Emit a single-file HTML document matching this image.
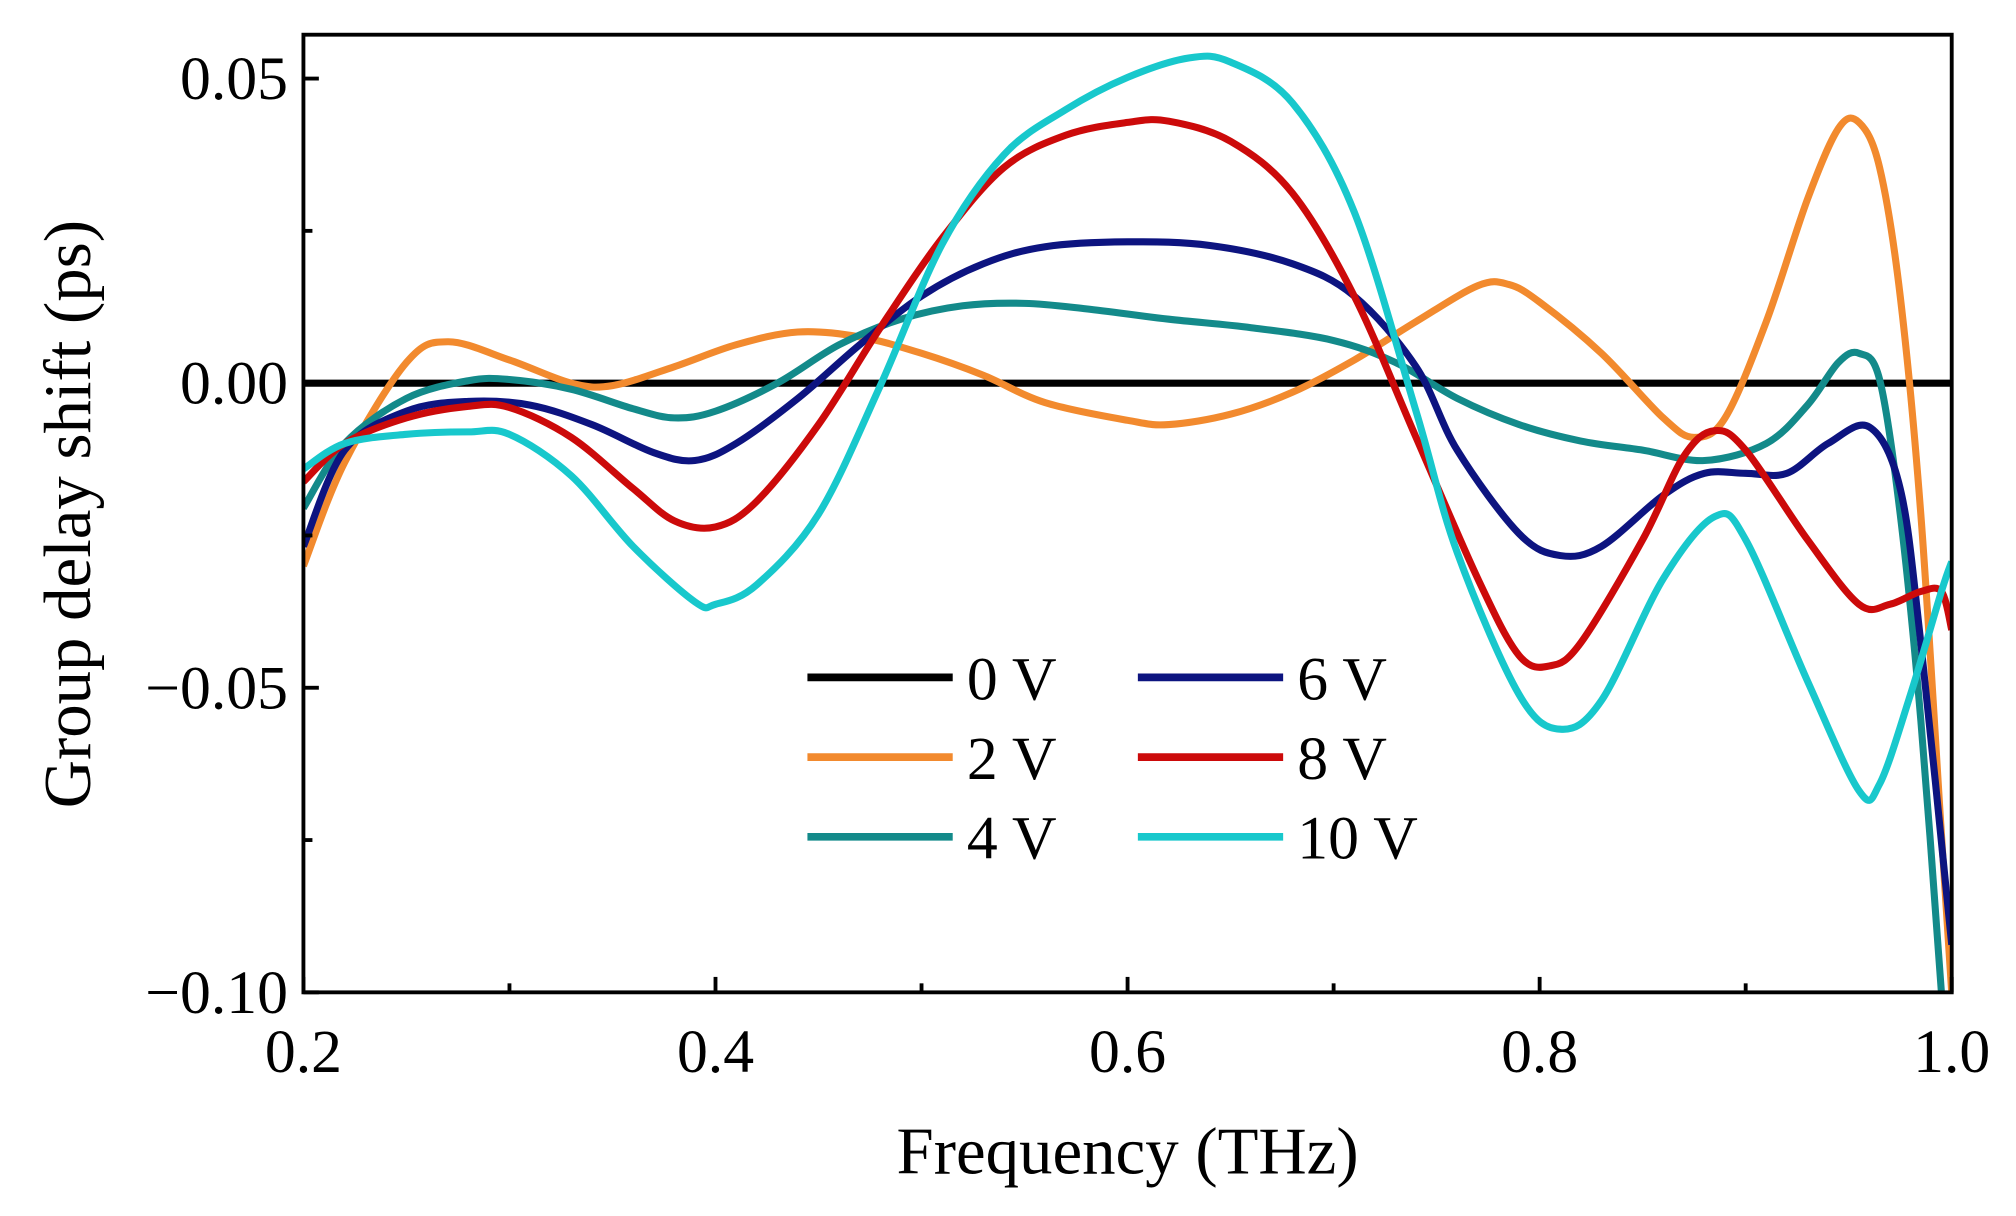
<!DOCTYPE html>
<html><head><meta charset="utf-8"><style>
html,body{margin:0;padding:0;background:#fff}
svg{display:block}
text{font-family:"Liberation Serif",serif;fill:#000}
</style></head><body>
<svg id="chart" width="2016" height="1216" viewBox="0 0 1568 946" preserveAspectRatio="none" xmlns="http://www.w3.org/2000/svg">
<g id="plot"></g>
</svg>
<script>
const xTicks=[0.2,0.4,0.6,0.8,1.0];
const xTickLabels=["0.2","0.4","0.6","0.8","1.0"];
const yTicks=[0.05,0,-0.05,-0.1];
const yTickLabels=["0.05","0.00","\u22120.05","\u22120.10"];
const seriesNames=["0 V","2 V","4 V","6 V","8 V","10 V"];
const seriesColors=["#000000","#f28a2e","#138a8a","#0d1480","#cc0a0a","#18c8cc"];
const f0=[0.2,1.0];
const v0=[0,0];
const f2=[0.2,0.22,0.25,0.27,0.3,0.33,0.35,0.38,0.41,0.44,0.47,0.5,0.53,0.56,0.6,0.62,0.65,0.68,0.71,0.74,0.77,0.785,0.8,0.83,0.86,0.875,0.89,0.91,0.93,0.945,0.955,0.965,0.975,0.985,0.995,1.0];
const v2=[-0.03,-0.013,0.0034,0.0068,0.0038,0,-0.0004,0.0027,0.0063,0.0084,0.0076,0.0049,0.0013,-0.0032,-0.0061,-0.0068,-0.0051,-0.0015,0.0038,0.0101,0.016,0.0162,0.0133,0.0049,-0.0057,-0.0089,-0.0057,0.0101,0.0302,0.0418,0.0428,0.0354,0.0143,-0.0215,-0.074,-0.1];
const f4=[0.2,0.22,0.25,0.28,0.3,0.33,0.36,0.38,0.4,0.43,0.46,0.49,0.52,0.55,0.58,0.62,0.66,0.7,0.73,0.76,0.79,0.82,0.85,0.88,0.91,0.93,0.945,0.955,0.965,0.975,0.985,0.995];
const v4=[-0.0205,-0.0099,-0.0025,0.0004,0.0006,-0.001,-0.0042,-0.0057,-0.0046,0,0.0063,0.0105,0.0127,0.0131,0.0122,0.0105,0.0091,0.007,0.0034,-0.0025,-0.0068,-0.0095,-0.011,-0.0127,-0.0099,-0.0036,0.0034,0.0049,0.0006,-0.0215,-0.0553,-0.1];
const f6=[0.2,0.22,0.25,0.28,0.31,0.34,0.37,0.39,0.41,0.44,0.47,0.5,0.53,0.56,0.6,0.64,0.68,0.71,0.74,0.76,0.79,0.81,0.83,0.86,0.88,0.9,0.92,0.94,0.96,0.975,0.985,1.0];
const v6=[-0.0268,-0.011,-0.0046,-0.003,-0.0036,-0.0068,-0.0114,-0.0127,-0.0099,-0.0025,0.0063,0.0143,0.0196,0.0224,0.0232,0.0226,0.0196,0.0143,0.0027,-0.011,-0.0247,-0.0283,-0.0268,-0.0184,-0.0148,-0.0148,-0.0148,-0.0099,-0.0072,-0.0173,-0.0426,-0.0922];
const f8=[0.2,0.22,0.25,0.28,0.3,0.33,0.36,0.38,0.4,0.42,0.45,0.48,0.51,0.54,0.57,0.6,0.62,0.65,0.68,0.71,0.74,0.77,0.79,0.805,0.82,0.85,0.87,0.885,0.9,0.93,0.955,0.97,0.985,0.995,1.0];
const v8=[-0.0162,-0.0099,-0.0057,-0.0038,-0.004,-0.0089,-0.0173,-0.0226,-0.0236,-0.0194,-0.0068,0.0091,0.0238,0.0354,0.0407,0.0428,0.043,0.0397,0.0312,0.0143,-0.0089,-0.0321,-0.0447,-0.0464,-0.0426,-0.0257,-0.012,-0.0078,-0.011,-0.0257,-0.0363,-0.0363,-0.0342,-0.0342,-0.0405];
const f10=[0.2,0.22,0.25,0.28,0.3,0.33,0.36,0.39,0.4,0.42,0.45,0.48,0.51,0.54,0.57,0.6,0.63,0.65,0.68,0.71,0.74,0.76,0.79,0.81,0.83,0.86,0.885,0.9,0.93,0.955,0.965,0.98,0.995,1.0];
const v10=[-0.0141,-0.0099,-0.0084,-0.008,-0.0084,-0.0152,-0.0268,-0.0359,-0.0363,-0.0331,-0.0215,-0.0004,0.0228,0.0375,0.0449,0.0502,0.0534,0.0527,0.046,0.0281,-0.0046,-0.0278,-0.0511,-0.0568,-0.0521,-0.0321,-0.0219,-0.0257,-0.0489,-0.0669,-0.0658,-0.0511,-0.0342,-0.0293];
const allF=[f0,f2,f4,f6,f8,f10];
const allV=[v0,v2,v4,v6,v8,v10];

const L=236,R=1518,T=27,B=772,xMin=0.2,xMax=1.0,yMin=-0.1,yMax=0.0572;
const X=f=>L+(f-xMin)/(xMax-xMin)*(R-L);
const Y=v=>B-(v-yMin)/(yMax-yMin)*(B-T);
const NS="http://www.w3.org/2000/svg";
const g=document.getElementById('plot');
function mk(tag,attrs,parent){const e=document.createElementNS(NS,tag);for(const k in attrs)e.setAttribute(k,attrs[k]);(parent||g).appendChild(e);return e;}

const clip=mk('clipPath',{id:'c'});mk('rect',{x:L,y:T,width:R-L,height:B-T},clip);

function smooth(pts){let d=`M${pts[0][0]},${pts[0][1]}`;for(let i=0;i<pts.length-1;i++){const p0=pts[i-1]||pts[i],p1=pts[i],p2=pts[i+1],p3=pts[i+2]||p2;const c1=[p1[0]+(p2[0]-p0[0])/6,p1[1]+(p2[1]-p0[1])/6],c2=[p2[0]-(p3[0]-p1[0])/6,p2[1]-(p3[1]-p1[1])/6];d+=` C${c1[0]},${c1[1]} ${c2[0]},${c2[1]} ${p2[0]},${p2[1]}`;}return d;}

[0,1,2,3,4,5].forEach(i=>{
  const pts=allF[i].map((f,j)=>[X(f),Y(allV[i][j])]);
  const p=mk('path',{d:smooth(pts),fill:'none',stroke:seriesColors[i],'stroke-width':5.5,'stroke-linejoin':'round','clip-path':'url(#c)'});
  
  
});

const fr=mk('rect',{x:L,y:T,width:R-L,height:B-T,fill:'none',stroke:'#000','stroke-width':3});



for(let k=0;k<=8;k++){const f=0.2+k*0.1;const major=k%2===0;mk('line',{x1:X(f),x2:X(f),y1:B,y2:B-(major?12:7),stroke:'#000','stroke-width':3});}
xTicks.forEach((f,i)=>{const t=mk('text',{x:X(f),y:B+62,'text-anchor':'middle','font-size':48});t.textContent=xTickLabels[i];

});
for(let k=0;k<=6;k++){const v=-0.1+k*0.025;const major=k%2===0;mk('line',{x1:L,x2:L+(major?12:7),y1:Y(v),y2:Y(v),stroke:'#000','stroke-width':3});}
yTicks.forEach((v,i)=>{const t=mk('text',{x:L-12,y:Y(v)+16,'text-anchor':'end','font-size':48});t.textContent=yTickLabels[i];

});

const xt=mk('text',{x:877,y:913,'text-anchor':'middle','font-size':52});xt.textContent='Frequency (THz)';


const yt=mk('text',{x:0,y:0,'text-anchor':'middle','font-size':52,transform:'translate(70,400) rotate(-90)'});yt.textContent='Group delay shift (ps)';



const lx=[628,885],ly=[527,589,651];
seriesNames.forEach((n,i)=>{const c=Math.floor(i/3),r=i%3;
  const le=mk('g',{});
  
  
  mk('line',{x1:lx[c],x2:lx[c]+113,y1:ly[r],y2:ly[r],stroke:seriesColors[i],'stroke-width':6},le);
  const t=mk('text',{x:lx[c]+124,y:ly[r]+17,'font-size':48},le);t.textContent=n;});
</script>
</body></html>
